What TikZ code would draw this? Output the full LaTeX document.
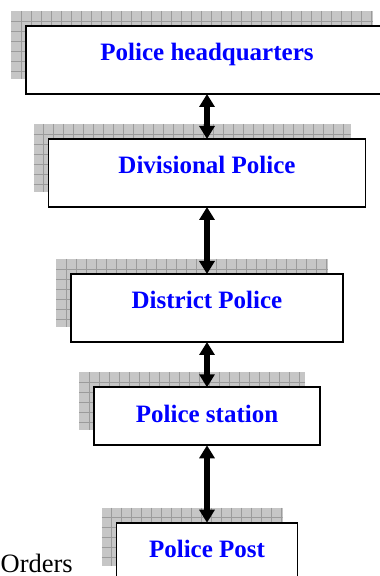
\documentclass[tikz,border=0pt]{standalone}
\usepackage{fontspec}
\setmainfont{Liberation Serif}
\usetikzlibrary{arrows.meta,calc,backgrounds}

\definecolor{labelblue}{RGB}{0,0,255}
\definecolor{shadegray}{RGB}{198,198,198}
\definecolor{gridgray}{RGB}{155,155,155}

\tikzset{
  levelbox/.style={draw=black, line width=1.8pt, fill=white, inner sep=0pt,
    outer sep=0pt, anchor=north, text height=35pt,
    font=\fontsize{25}{28}\selectfont\bfseries, text=labelblue},
  shadefill/.style={fill=shadegray},
  shadegrid/.style={draw=gridgray, line width=0.7pt},
  link/.style={line width=5.5pt,
    {Triangle[width=15pt,length=13pt]}-{Triangle[width=15pt,length=13pt]}},
  note/.style={inner sep=0pt, anchor=base west,
    font=\fontsize{26.5}{30}\selectfont}
}

% Grid-patterned shadow, offset up and to the left of a box
\newcommand\gridshade[1]{%
  \begin{scope}[on background layer]
    \path ($(#1.north west)+(-15,15)$) coordinate (#1-sa)
          ($(#1.south east)+(-15,15)$) coordinate (#1-sb);
    \fill[shadefill] (#1-sa) rectangle (#1-sb);
    \begin{scope}
      \clip (#1-sa) rectangle (#1-sb);
      \foreach \k in {1,...,40}{
        \draw[shadegrid] ($(#1-sa)+(10*\k,0)$) -- ($(#1-sa |- #1-sb)+(10*\k,0)$);
        \draw[shadegrid] ($(#1-sa)+(0,-10*\k)$) -- ($(#1-sb |- #1-sa)+(0,-10*\k)$);
      }
    \end{scope}
  \end{scope}}

\begin{document}
\begin{tikzpicture}[x=1pt,y=1pt]
  \useasboundingbox (0,0) rectangle (380,576);

  \node[levelbox, minimum width=362pt, text depth=33pt] (hq)  at (207,550)   {Police headquarters};
  \node[levelbox, minimum width=317pt, text depth=33pt] (div) at (207,437)   {Divisional Police};
  \node[levelbox, minimum width=272pt, text depth=33pt] (dist) at (207,302)  {District Police};
  \node[levelbox, minimum width=226pt, text depth=23pt] (stn) at (207,188.7) {Police station};
  \node[levelbox, minimum width=181pt, text depth=23pt] (post) at (207,53.3) {Police Post};

  \gridshade{hq}
  \gridshade{div}
  \gridshade{dist}
  \gridshade{stn}
  \gridshade{post}

  \draw[link] (hq.south)   -- (div.north);
  \draw[link] (div.south)  -- (dist.north);
  \draw[link] (dist.south) -- (stn.north);
  \draw[link] (stn.south)  -- (post.north);

  \node[note] (orders) at (0.5,3) {Orders};
\end{tikzpicture}
\end{document}
